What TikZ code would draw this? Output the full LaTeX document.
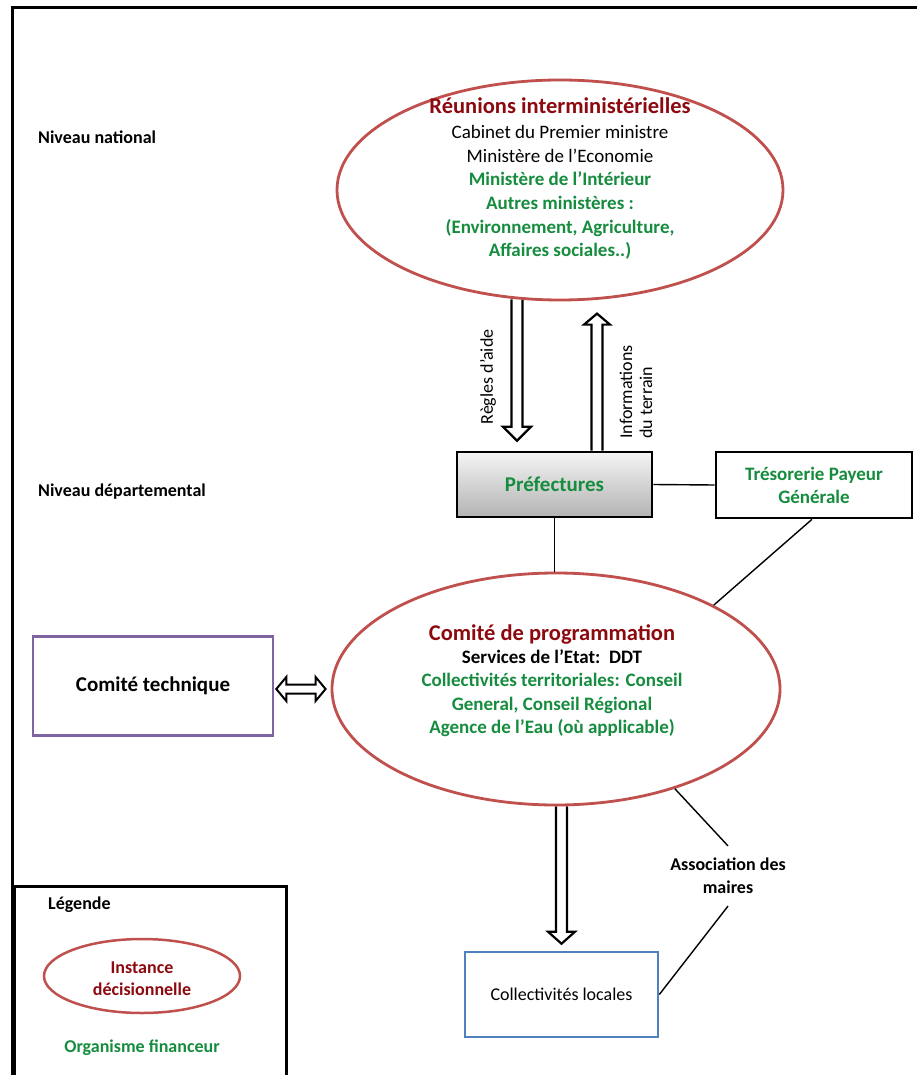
\documentclass[tikz,border=0pt]{standalone}
\usepackage{fontspec}
\setmainfont{Carlito}
\usetikzlibrary{shapes.geometric,calc,backgrounds}
\definecolor{ellred}{RGB}{192,80,77}
\definecolor{darkredtxt}{RGB}{140,10,15}
\definecolor{fingreen}{RGB}{22,140,62}
\definecolor{techpurple}{RGB}{128,100,162}
\definecolor{collblue}{RGB}{79,129,189}
\newcommand\fsz[2]{\fontsize{#1}{#2}\selectfont}
\newcommand\downblock[5]{%
  \draw[blockarr] ($(#1)+(-#3,0)$) -- ($(#2)+(-#3,-#5)$) -- ($(#2)+(-#4,-#5)$) -- (#2)
    -- ($(#2)+(#4,-#5)$) -- ($(#2)+(#3,-#5)$) -- ($(#1)+(#3,0)$);}
\newcommand\upblock[5]{%
  \draw[blockarr] ($(#1)+(-#3,0)$) -- ($(#2)+(-#3,#5)$) -- ($(#2)+(-#4,#5)$) -- (#2)
    -- ($(#2)+(#4,#5)$) -- ($(#2)+(#3,#5)$) -- ($(#1)+(#3,0)$);}
\begin{document}
\begin{tikzpicture}[x=1pt,y=-1pt,
  decision/.style={ellipse, draw=ellred, line width=2.8pt, inner sep=0pt},
  blockarr/.style={draw=black, line width=2.2pt, fill=white, line join=miter},
  conn/.style={draw=black, line width=1.4pt},
  boxnode/.style={draw, line width=2.6pt, inner sep=0pt, align=center},
  lvl/.style={anchor=west, font=\fsz{18}{22}\bfseries, inner sep=0pt}]
\useasboundingbox (0,0) rectangle (916,1075);

% frame
\coordinate (frameBL) at (12,1085);
\coordinate (frameTL) at (12,8);
\coordinate (frameTR) at (925,8);
\draw[line width=3pt] (frameBL) -- (frameTL) -- (frameTR);

% level labels
\node[lvl] (nivnat) at (38,137) {Niveau national};
\node[lvl] (nivdep) at (38,492) {Niveau départemental};

% national ellipse
\node[decision, minimum width=446, minimum height=220] (reu) at (560,190) {};
\node[anchor=base, font=\fsz{22.5}{27}\bfseries, text=darkredtxt, inner sep=0pt] (reutitle) at (560,114) {Réunions interministérielles};
\node[anchor=base, align=center, inner sep=0pt, font=\fsz{19}{23.5}] (reubody) at (560,256.5)
  {Cabinet du Premier ministre\\
   Ministère de l’Economie\\
   {\bfseries\color{fingreen}Ministère de l’Intérieur}\\
   {\bfseries\color{fingreen}Autres ministères :}\\
   {\bfseries\color{fingreen}(Environnement, Agriculture,}\\
   {\bfseries\color{fingreen}Affaires sociales..)}};

% Préfectures and Trésorerie
\node[boxnode, minimum width=195, minimum height=65, top color=black!4, bottom color=black!30,
      font=\fsz{21}{25}\bfseries, text=fingreen] (pref) at (554.5,484.5) {Préfectures};
\node[boxnode, minimum width=196, minimum height=66, font=\fsz{19}{23}\bfseries, text=fingreen]
      (tres) at (814,485) {Trésorerie Payeur\\Générale};

% programming committee ellipse
\node[decision, minimum width=448, minimum height=232] (cp) at (556,689) {};
\node[anchor=base, font=\fsz{22.5}{27}\bfseries, text=darkredtxt, inner sep=0pt] (cptitle) at (552,640) {Comité de programmation};
\node[anchor=base, align=center, inner sep=0pt, font=\fsz{19}{23.5}\bfseries] (cpbody) at (552,733.5)
  {Services de l’Etat:\ \ DDT\\
   {\color{fingreen}Collectivités territoriales: Conseil}\\
   {\color{fingreen}General, Conseil Régional}\\
   {\color{fingreen}Agence de l’Eau (où applicable)}};

% technical committee
\node[boxnode, draw=techpurple, minimum width=240, minimum height=99, font=\fsz{21}{25}\bfseries]
      (ctech) at (153,686) {Comité technique};

% local authorities
\node[boxnode, draw=collblue, minimum width=193, minimum height=85, font=\fsz{18}{22}]
      (coll) at (561.5,994.5) {Collectivités locales};

% mayors association
\node[align=center, font=\fsz{18}{23}\bfseries, inner xsep=2pt, inner ysep=12pt] (assoc) at (728,876)
  {Association des\\maires};

% rotated labels
\node[rotate=90, font=\fsz{18}{21}, inner sep=0pt] (regles) at (488,377) {Règles d’aide};
\node[rotate=90, anchor=west, align=left, font=\fsz{18}{20}, inner sep=0pt] (infos) at (636,439)
  {Informations\\du terrain};

% legend
\node[draw, line width=2.6pt, minimum width=272, minimum height=200, anchor=north west, inner sep=0pt]
      (legend) at (13,885) {};
\node[lvl] (legtitle) at (48,905) {Légende};
\node[decision, line width=2.5pt, minimum width=196, minimum height=74] (legell) at (142,976) {};
\node[align=center, font=\fsz{18}{22}\bfseries, text=darkredtxt, inner sep=0pt] (legelltxt) at (142,979)
  {Instance\\décisionnelle};
\node[font=\fsz{18}{22}\bfseries, text=fingreen, inner sep=0pt] (legfin) at (142,1048) {Organisme financeur};

% plain connectors
\draw[conn] (pref.east) -- (tres.west);
\draw[conn] (pref.south) -- (pref.south |- cp.north);
\draw[conn] ([xshift=-2pt]tres.south) -- (cp.28);
\draw[conn] (cp.-40) -- (assoc.north);
\draw[conn] (assoc.south) -- (coll.east);

% block arrows (behind the ellipses)
\coordinate (rgtip) at ([xshift=-37.5pt,yshift=10pt]pref.north);
\coordinate (rgstart0) at (reu.-111);
\coordinate (rgstart) at (rgstart0 -| rgtip);
\coordinate (inftail) at ([xshift=42.5pt]pref.north);
\coordinate (infup0) at (reu.-70);
\coordinate (infup) at (inftail |- infup0);
\coordinate (inftip) at ([yshift=-14pt]infup);
\coordinate (colltip) at ([yshift=7pt]coll.north);
\coordinate (collstart) at (colltip |- cp.south);
\coordinate (dblR) at ([xshift=-5pt]cp.west);
\coordinate (dblL0) at ([xshift=2pt]ctech.east);
\coordinate (dblL) at (dblL0 |- dblR);
\begin{pgfonlayer}{background}
\fill[white] (0,0) rectangle (916,1075);
\downblock{rgstart}{rgtip}{5.5}{14}{14}
\upblock{inftail}{inftip}{5.5}{13}{11}
\downblock{collstart}{colltip}{5.5}{13.5}{12}
\draw[blockarr, line width=2pt] (dblL) -- ($(dblL)+(10,-12)$) -- ($(dblL)+(10,-4.5)$) -- ($(dblR)+(-10,-4.5)$)
  -- ($(dblR)+(-10,-12)$) -- (dblR) -- ($(dblR)+(-10,12)$) -- ($(dblR)+(-10,4.5)$)
  -- ($(dblL)+(10,4.5)$) -- ($(dblL)+(10,12)$) -- cycle;
\end{pgfonlayer}
\end{tikzpicture}
\end{document}
